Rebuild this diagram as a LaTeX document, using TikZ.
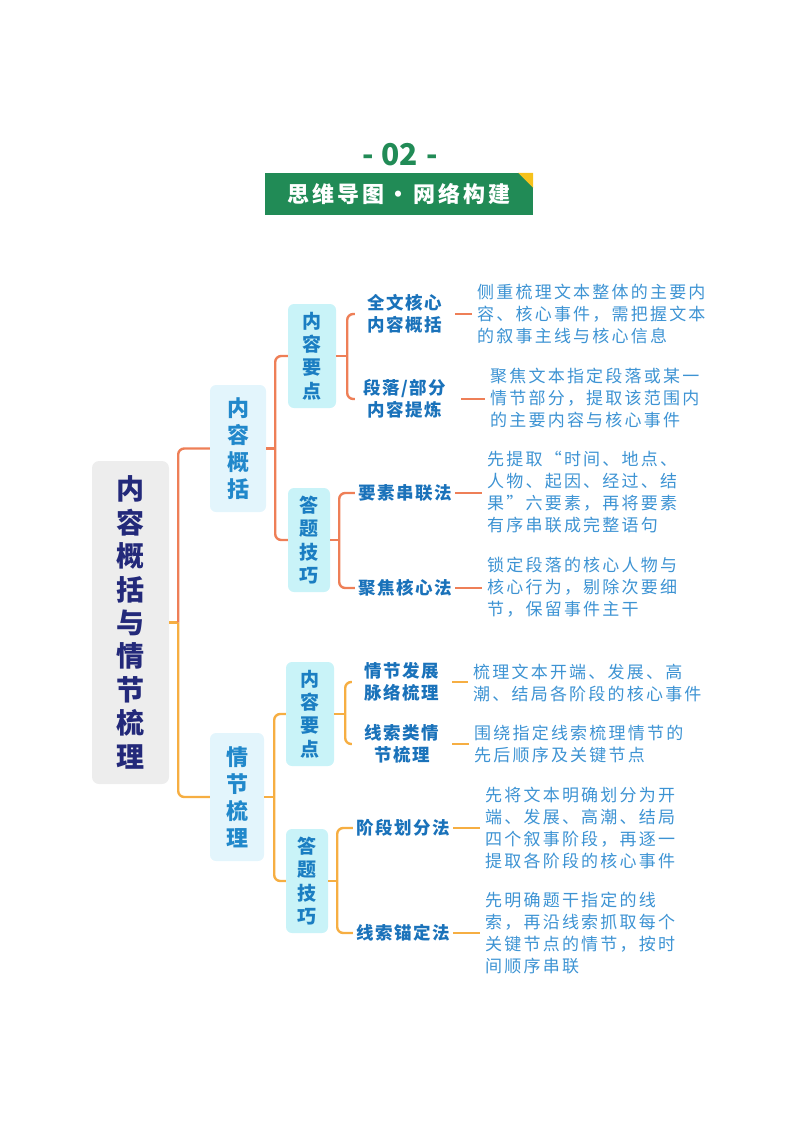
\documentclass[tikz,border=0pt]{standalone}
\usepackage{fontspec}
\setmainfont{Noto Sans CJK SC}
\newfontfamily\descfont[LetterSpace=13]{Noto Sans CJK SC}
\newfontfamily\labfont[LetterSpace=8]{Noto Sans CJK SC}
\newfontfamily\banfont[LetterSpace=14]{Noto Sans CJK SC}
\definecolor{toporange}{HTML}{EE7F57}
\definecolor{botorange}{HTML}{F6AE42}
\definecolor{rootgray}{HTML}{EDEDED}
\definecolor{navy}{HTML}{23297A}
\definecolor{lonefill}{HTML}{E3F5FC}
\definecolor{lonetext}{HTML}{2188CB}
\definecolor{ltwofill}{HTML}{C9F3F8}
\definecolor{ltwotext}{HTML}{1B7EC2}
\definecolor{labtext}{HTML}{1A72BA}
\definecolor{desctext}{HTML}{3D93D3}
\definecolor{bangreen}{HTML}{218B56}
\definecolor{banyellow}{HTML}{F6C21C}
\begin{document}
\begin{tikzpicture}[x=1pt,y=-1pt,
  rootbox/.style={fill=rootgray, rounded corners=7pt, minimum width=77pt, minimum height=323pt, inner sep=0pt, align=center, text=navy, font=\bfseries\fontsize{28}{33.4}\selectfont},
  lvone/.style={fill=lonefill, rounded corners=6pt, minimum width=56pt, minimum height=127pt, inner sep=0pt, align=center, text=lonetext, font=\bfseries\fontsize{22}{27}\selectfont},
  lvtwo/.style={fill=ltwofill, rounded corners=6pt, minimum height=104pt, inner sep=0pt, align=center, text=ltwotext, font=\bfseries\fontsize{19}{23.3}\selectfont},
  leaf/.style={text width=100pt, align=center, inner sep=0pt, text=labtext, font=\labfont\bfseries\fontsize{17.5}{22}\selectfont},
  desc/.style={anchor=west, align=left, inner sep=0pt, text=desctext, font=\descfont\fontsize{17}{22}\selectfont},
  topline/.style={draw=toporange, line width=2.4pt, rounded corners=6pt},
  botline/.style={draw=botorange, line width=2.4pt, rounded corners=6pt},
  topdash/.style={draw=toporange, line width=2pt, shorten >=5pt},
  botdash/.style={draw=botorange, line width=2pt, shorten >=5pt}
]
\useasboundingbox (0,0) rectangle (800,1132);

% header
\node[text=bangreen, font=\bfseries\fontsize{30}{32}\selectfont, inner sep=0pt] (num) at (400,155) {-\hspace{8pt}02\hspace{8pt}-};
\node[fill=bangreen, minimum width=268pt, minimum height=42pt, inner sep=0pt, text=white, font=\banfont\bfseries\fontsize{22}{24}\selectfont] (ban) at (399,194) {思维导图・网络构建};
\fill[banyellow] (ban.north east) -- ++(-15,0) -- ++(15,15) -- cycle;

% root and level 1
\node[rootbox] (root) at (130.5,622.5) {内\\容\\概\\括\\与\\情\\节\\梳\\理};
\node[lvone] (a) at (238,448.5) {内\\容\\概\\括};
\node[lvone, minimum width=54pt, minimum height=128pt] (b) at (237,797) {情\\节\\梳\\理};

\draw[botline] (root.east) -- ++(9,0) coordinate (rj);
\draw[topline] (rj) |- (a.west);
\draw[botline] (rj) |- (b.west);

% level 2 (upper)
\node[lvtwo, minimum width=48pt] (a1) at (312,356) {内\\容\\要\\点};
\node[lvtwo, minimum width=42pt] (a2) at (309,540) {答\\题\\技\\巧};
\draw[topline] (a.east) -- ++(9,0) coordinate (aj);
\draw[topline] (a1.west) -| (aj) |- (a2.west);

% level 2 (lower)
\node[lvtwo, minimum width=48pt] (b1) at (310,714) {内\\容\\要\\点};
\node[lvtwo, minimum width=42pt] (b2) at (307,881) {答\\题\\技\\巧};
\draw[botline] (b.east) -- ++(10,0) coordinate (bj);
\draw[botline] (b1.west) -| (bj) |- (b2.west);

% level 3 upper
\node[leaf] (a11) at (405,314) {全文核心\\内容概括};
\node[leaf] (a12) at (405,399) {段落/部分\\内容提炼};
\node[leaf] (a21) at (405,493) {要素串联法};
\node[leaf] (a22) at (405,588) {聚焦核心法};
\draw[topline] (a1.east) -- ++(11,0) coordinate (a1j);
\draw[topline] (a11.west) -| (a1j) |- (a12.west);
\draw[topline] (a2.east) -- ++(9,0) coordinate (a2j);
\draw[topline] (a21.west) -| (a2j) |- (a22.west);

% level 3 lower
\node[leaf] (b11) at (402,682) {情节发展\\脉络梳理};
\node[leaf] (b12) at (402,744) {线索类情\\节梳理};
\node[leaf] (b21) at (403,828) {阶段划分法};
\node[leaf] (b22) at (403,933) {线索锚定法};
\draw[botline] (b1.east) -- ++(11,0) coordinate (b1j);
\draw[botline] (b11.west) -| (b1j) |- (b12.west);
\draw[botline] (b2.east) -- ++(9,0) coordinate (b2j);
\draw[botline] (b21.west) -| (b2j) |- (b22.west);

% descriptions
\node[desc] (d11) at (477,314.5) {侧重梳理文本整体的主要内\\容、核心事件，需把握文本\\的叙事主线与核心信息};
\node[desc] (d12) at (490,398) {聚焦文本指定段落或某一\\情节部分，提取该范围内\\的主要内容与核心事件};
\node[desc] (d21) at (487,492.5) {先提取“时间、地点、\\人物、起因、经过、结\\果”六要素，再将要素\\有序串联成完整语句};
\node[desc] (d22) at (487,587) {锁定段落的核心人物与\\核心行为，剔除次要细\\节，保留事件主干};
\node[desc] (d31) at (473,683) {梳理文本开端、发展、高\\潮、结局各阶段的核心事件};
\node[desc] (d32) at (474,744.5) {围绕指定线索梳理情节的\\先后顺序及关键节点};
\node[desc] (d41) at (485,828) {先将文本明确划分为开\\端、发展、高潮、结局\\四个叙事阶段，再逐一\\提取各阶段的核心事件};
\node[desc] (d42) at (485,933) {先明确题干指定的线\\索，再沿线索抓取每个\\关键节点的情节，按时\\间顺序串联};

% dashes
\draw[topdash] (a11.east) -- (a11.east -| d11.west);
\draw[topdash, shorten <=6pt] (a12.east) -- (a12.east -| d12.west);
\draw[topdash] (a21.east) -- (a21.east -| d21.west);
\draw[topdash] (a22.east) -- (a22.east -| d22.west);
\draw[botdash] (b11.east) -- (b11.east -| d31.west);
\draw[botdash] (b12.east) -- (b12.east -| d32.west);
\draw[botdash] (b21.east) -- (b21.east -| d41.west);
\draw[botdash] (b22.east) -- (b22.east -| d42.west);
\end{tikzpicture}
\end{document}
